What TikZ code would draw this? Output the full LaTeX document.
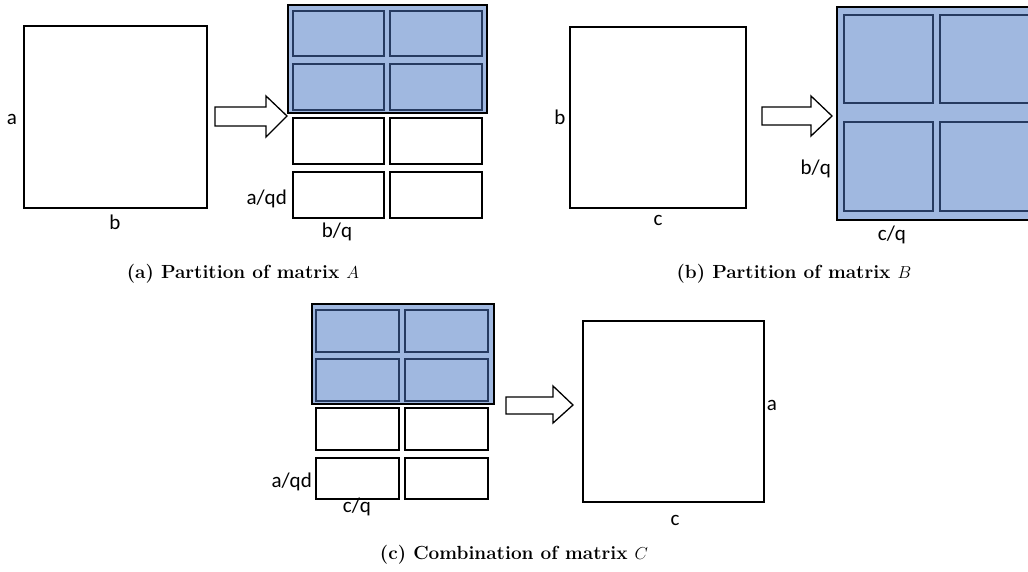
\documentclass[tikz,border=0pt]{standalone}
\usepackage{fontspec}
\newfontfamily\lblfont{Carlito}
\begin{document}
\begin{tikzpicture}[x=1pt,y=-1pt,
  mat/.style={draw=black,line width=1.4pt,fill=white},
  blk/.style={draw=black,line width=2pt,fill=white},
  outer/.style={draw=black,line width=2pt,fill=blueA},
  inner/.style={draw=navyA,line width=1.8pt,fill=blueA},
  barrow/.style={draw=black,line width=1.3pt,fill=white,line join=miter},
  lbl/.style={font=\lblfont\fontsize{21}{24}\selectfont,inner sep=0pt,anchor=base},
  captxt/.style={font=\bfseries\fontsize{19}{22}\selectfont,inner sep=0pt,anchor=base}]
\definecolor{blueA}{RGB}{160,184,224}
\definecolor{navyA}{RGB}{38,58,96}
\useasboundingbox (0,0) rectangle (1028,571);
\clip (0,0) rectangle (1028,571);
% ---------- (a) ----------
\draw[mat] (24,26) rectangle (207,208);
\node[lbl] (la) at (12,124) {a};
\node[lbl] (lb) at (115,229) {b};
\draw[barrow] (215,107) -- (266,107) -- (266,96) -- (287,116) -- (266,137) -- (266,126) -- (215,126) -- cycle;
\draw[outer] (288,5) rectangle (487,113);
\draw[inner] (293,11) rectangle (384,56);
\draw[inner] (390,11) rectangle (482,56);
\draw[inner] (293,64) rectangle (384,110);
\draw[inner] (390,64) rectangle (482,110);
\draw[blk] (293,118) rectangle (384,164);
\draw[blk] (390,118) rectangle (482,164);
\draw[blk] (293,172) rectangle (384,218);
\draw[blk] (390,172) rectangle (482,218);
\node[lbl,anchor=base east] (laqd) at (287,204) {a/qd};
\node[lbl] (lbq) at (337,237) {b/q};
\node[captxt] (capa) at (243,278) {(a) Partition of matrix $A$};
% ---------- (b) ----------
\draw[mat] (570,27) rectangle (746,208);
\node[lbl] (lb2) at (560,124) {b};
\node[lbl] (lc2) at (658,225) {c};
\draw[barrow] (762,107) -- (811,107) -- (811,96) -- (832,116) -- (811,136) -- (811,125) -- (762,125) -- cycle;
\draw[outer] (837,7) rectangle (1040,220);
\draw[inner] (844,15) rectangle (933,103);
\draw[inner] (940,15) rectangle (1035,103);
\draw[inner] (844,122) rectangle (933,211);
\draw[inner] (940,122) rectangle (1035,211);
\node[lbl,anchor=base east] (lbq2) at (831,174) {b/q};
\node[lbl] (lcq2) at (892,240) {c/q};
\node[captxt] (capb) at (794,278) {(b) Partition of matrix $B$};
% ---------- (c) ----------
\draw[outer] (312,304) rectangle (494,404);
\draw[inner] (316,310) rectangle (399,352);
\draw[inner] (405,310) rectangle (488,352);
\draw[inner] (316,359) rectangle (399,401);
\draw[inner] (405,359) rectangle (488,401);
\draw[blk] (316,408) rectangle (399,450);
\draw[blk] (405,408) rectangle (488,450);
\draw[blk] (316,458) rectangle (399,499);
\draw[blk] (405,458) rectangle (488,499);
\node[lbl,anchor=base east] (laqd3) at (312,487) {a/qd};
\node[lbl] (lcq3) at (357,512) {c/q};
\draw[barrow] (506,397) -- (553,397) -- (553,386) -- (573,405) -- (553,423) -- (553,414) -- (506,414) -- cycle;
\draw[mat] (583,321) rectangle (764,502);
\node[lbl] (la3) at (772,410) {a};
\node[lbl] (lc3) at (675,525) {c};
\node[captxt] (capc) at (514,559) {(c) Combination of matrix $C$};
\end{tikzpicture}
\end{document}
